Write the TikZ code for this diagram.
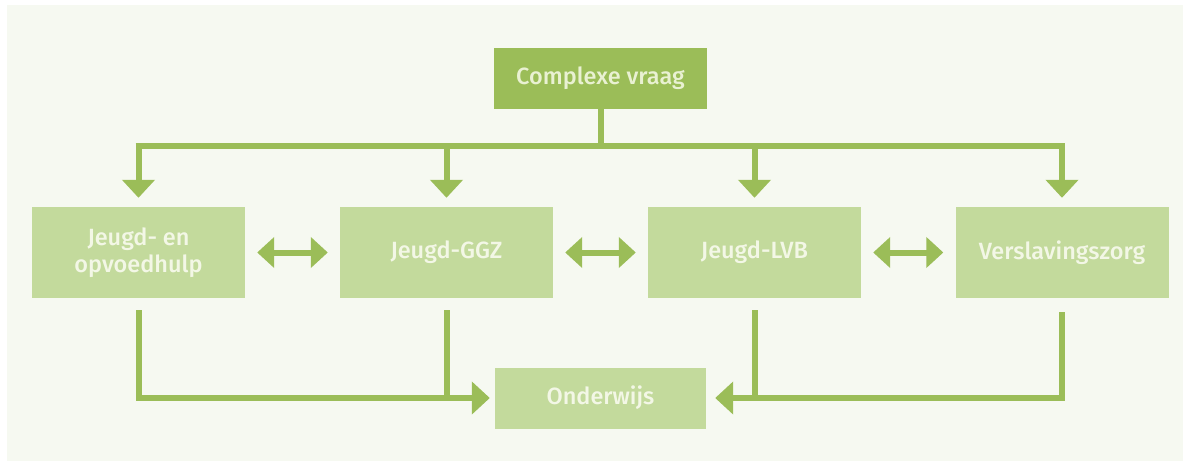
\documentclass[tikz,border=0pt]{standalone}
\usepackage{fontspec}
\setmainfont{Fira Sans}[UprightFont=* Medium]
\usetikzlibrary{arrows.meta,calc}
\definecolor{dkgreen}{HTML}{9BBD58}
\definecolor{ltgreen}{HTML}{C3DA9C}
\definecolor{panel}{HTML}{F6F9F1}
\definecolor{txt}{HTML}{F3F7E6}
\definecolor{toptxt}{HTML}{E9F1D2}
\tikzset{
  box/.style={rectangle, fill=ltgreen, minimum width=213pt, minimum height=91pt, inner sep=0pt,
    text=txt, align=center, font=\fontsize{23.5}{27}\selectfont},
  topbox/.style={box, fill=dkgreen, minimum height=61pt, text=toptxt},
  lowbox/.style={box, minimum width=211pt, minimum height=61pt},
  conn/.style={draw=dkgreen, line width=6pt},
  arr/.style={conn, -{Triangle[width=32pt,length=18pt]}},
  darr/.style={conn, {Triangle[width=30pt,length=17pt]}-{Triangle[width=30pt,length=17pt]}, shorten <=12pt, shorten >=12pt},
}
\begin{document}
\begin{tikzpicture}[x=1pt,y=-1pt]
\useasboundingbox (0,0) rectangle (1187,464);
\fill[white] (0,0) rectangle (1187,464);
\fill[panel] (7,5) rectangle (1183,461);

\node[topbox] (top) at (600.5,78) {Complexe vraag};
\node[box] (b1) at (138.5,252.5) {Jeugd- en\\opvoedhulp};
\node[box] (b2) at (446.5,252.5) {Jeugd-GGZ};
\node[box] (b3) at (754.5,252.5) {Jeugd-LVB};
\node[box] (b4) at (1062,252.5) {Verslavingszorg};
\node[lowbox] (ond) at (600.5,398) {Onderwijs};

\coordinate (bus) at (600.5,146);
\coordinate (bus1) at (b1.north |- bus);
\coordinate (bus4) at (b4.north |- bus);
\draw[conn] (top.south) -- (bus);
\draw[conn] ([xshift=-3pt]bus1) -- ([xshift=3pt]bus4);
\foreach \b in {b1,b2,b3,b4}{
  \draw[arr, shorten >=9pt] (\b.north |- bus) -- (\b.north);
}

\draw[darr] (b1) -- (b2);
\draw[darr] (b2) -- (b3);
\draw[darr] (b3) -- (b4);

\draw[arr, shorten >=5pt] ($(b1.south)+(0,12)$) |- (ond.west);
\draw[conn] ($(b2.south)+(0,12)$) -- (b2.south |- ond.west);
\draw[arr, shorten >=9pt] ($(b4.south)+(0,14)$) |- (ond.east);
\draw[conn] ($(b3.south)+(0,12)$) -- (b3.south |- ond.east);
\end{tikzpicture}
\end{document}
